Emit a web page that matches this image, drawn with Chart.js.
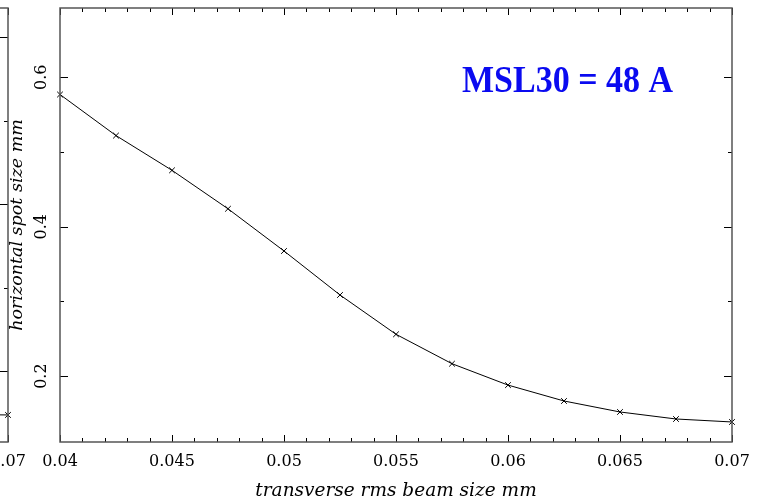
<!DOCTYPE html>
<html>
<head>
<meta charset="utf-8">
<script src="https://cdn.jsdelivr.net/npm/chart.js@4.4.0/dist/chart.umd.min.js"></script>
<style>
  html, body { margin: 0; padding: 0; background: #fff; overflow: hidden; }
  .panel { position: absolute; top: 0; width: 757px; height: 502px; }
  #main { left: 0; }
  #side { left: -724px; }
</style>
</head>
<body>
<div class="panel" id="side"><canvas id="sideChart" width="757" height="502"></canvas></div>
<div class="panel" id="main"><canvas id="mainChart" width="757" height="502"></canvas></div>
<script>
// main panel: spot size vs beam size
const beamSize = [0.04, 0.0425, 0.045, 0.0475, 0.05, 0.0525, 0.055, 0.0575, 0.06, 0.0625, 0.065, 0.0675, 0.07];
const spotSize = [0.577, 0.522, 0.4755, 0.424, 0.3675, 0.3086, 0.256, 0.2166, 0.188, 0.1667, 0.152, 0.1426, 0.1386];
const yTickValues = [0.2, 0.3, 0.4, 0.5, 0.6];
const yTickLabels = ['0.2', '', '0.4', '', '0.6'];

// the neighbouring panel, only its right edge shows
const sideBeamSize = [0.0675, 0.07];
const sideSpotSize = [0.0740, 0.0737];
const sideTickValues = [0.1, 0.15, 0.2, 0.25, 0.3];
const sideTickLabels = ['0.1', '', '0.2', '', '0.3'];

const xTitle = 'transverse rms beam size mm';
const yTitle = 'horizontal spot size mm';
const noteText = 'MSL30 = 48 A';

const tickFont = { family: 'DejaVu Serif', size: 16 };
const xTitleFont = { family: 'DejaVu Serif', size: 18.5, style: 'italic' };
const yTitleFont = { family: 'DejaVu Serif', size: 17.5, style: 'italic' };

// frame and inward ticks on all four sides
const frameTicks = {
  id: 'frameTicks',
  afterDraw(chart) {
    const { ctx, chartArea: a, scales: { x, y } } = chart;
    ctx.save();
    ctx.strokeStyle = '#000';
    ctx.lineWidth = 1;
    ctx.beginPath();
    x.ticks.forEach(t => {
      const px = Math.round(x.getPixelForValue(t.value)) + 0.5;
      const len = t.label ? 7 : 4;
      ctx.moveTo(px, a.bottom); ctx.lineTo(px, a.bottom - len);
      ctx.moveTo(px, a.top); ctx.lineTo(px, a.top + len);
    });
    y.ticks.forEach(t => {
      const py = Math.round(y.getPixelForValue(t.value)) + 0.5;
      const len = t.label ? 8 : 4;
      ctx.moveTo(a.left, py); ctx.lineTo(a.left + len, py);
      ctx.moveTo(a.right, py); ctx.lineTo(a.right - len, py);
    });
    ctx.stroke();
    ctx.strokeStyle = '#555';
    ctx.lineWidth = 1.5;
    ctx.strokeRect(a.left, a.top, a.right - a.left, a.bottom - a.top);
    ctx.restore();
  }
};

const noteLabel = {
  id: 'noteLabel',
  afterDraw(chart, args, opts) {
    if (!opts.text) return;
    const { ctx, chartArea: a } = chart;
    ctx.save();
    ctx.fillStyle = '#0a0af0';
    ctx.font = 'bold 34px "Liberation Serif"';
    ctx.textBaseline = 'alphabetic';
    ctx.translate(a.left + 402, a.top + 84);
    ctx.scale(1, 1.1);
    ctx.fillText(opts.text, 0, 0);
    ctx.restore();
  }
};

function makeChart(id, xs, ys, yMin, yMax, tickValues, tickLabels, note) {
  return new Chart(document.getElementById(id), {
    type: 'line',
    data: {
      datasets: [{
        data: xs.map((v, i) => ({ x: v, y: ys[i] })),
        borderColor: '#000',
        borderWidth: 1,
        tension: 0,
        pointStyle: 'crossRot',
        pointRadius: 4,
        pointBorderColor: '#000',
        pointBorderWidth: 1,
        clip: false
      }]
    },
    options: {
      responsive: false,
      animation: false,
      devicePixelRatio: 1,
      layout: { padding: { top: 8, right: 25, left: 0, bottom: 0 } },
      plugins: {
        legend: { display: false },
        tooltip: { enabled: false },
        noteLabel: { text: note }
      },
      scales: {
        x: {
          type: 'linear',
          min: 0.04,
          max: 0.07,
          grid: { display: false, drawTicks: false },
          border: { display: false },
          ticks: {
            stepSize: 0.001,
            autoSkip: false,
            maxRotation: 0,
            padding: 10,
            color: '#000',
            font: tickFont,
            callback: v => (Math.round(v * 1000) % 5 === 0 ? String(+v.toFixed(3)) : '')
          },
          title: { display: true, text: xTitle, font: xTitleFont, color: '#000', padding: { top: 0, bottom: 0 } },
          afterFit: s => { s.height = 60; s.paddingLeft = 0; s.paddingRight = 0; }
        },
        y: {
          type: 'linear',
          min: yMin,
          max: yMax,
          grid: { display: false, drawTicks: false },
          border: { display: false },
          afterBuildTicks: s => { s.ticks = tickValues.map(v => ({ value: v })); },
          ticks: {
            minRotation: 90,
            maxRotation: 90,
            crossAlign: 'center',
            padding: 5,
            color: '#000',
            font: tickFont,
            callback: v => tickLabels[tickValues.indexOf(v)] ?? ''
          },
          title: { display: true, text: yTitle, font: yTitleFont, color: '#000', padding: { top: 6.5, bottom: 0 } },
          afterFit: s => { s.width = 60; s.paddingTop = 0; s.paddingBottom = 0; }
        }
      }
    },
    plugins: [frameTicks, noteLabel]
  });
}

makeChart('sideChart', sideBeamSize, sideSpotSize, 0.0575, 0.3174, sideTickValues, sideTickLabels, '');
makeChart('mainChart', beamSize, spotSize, 0.1118, 0.6928, yTickValues, yTickLabels, noteText);
</script>
</body>
</html>
